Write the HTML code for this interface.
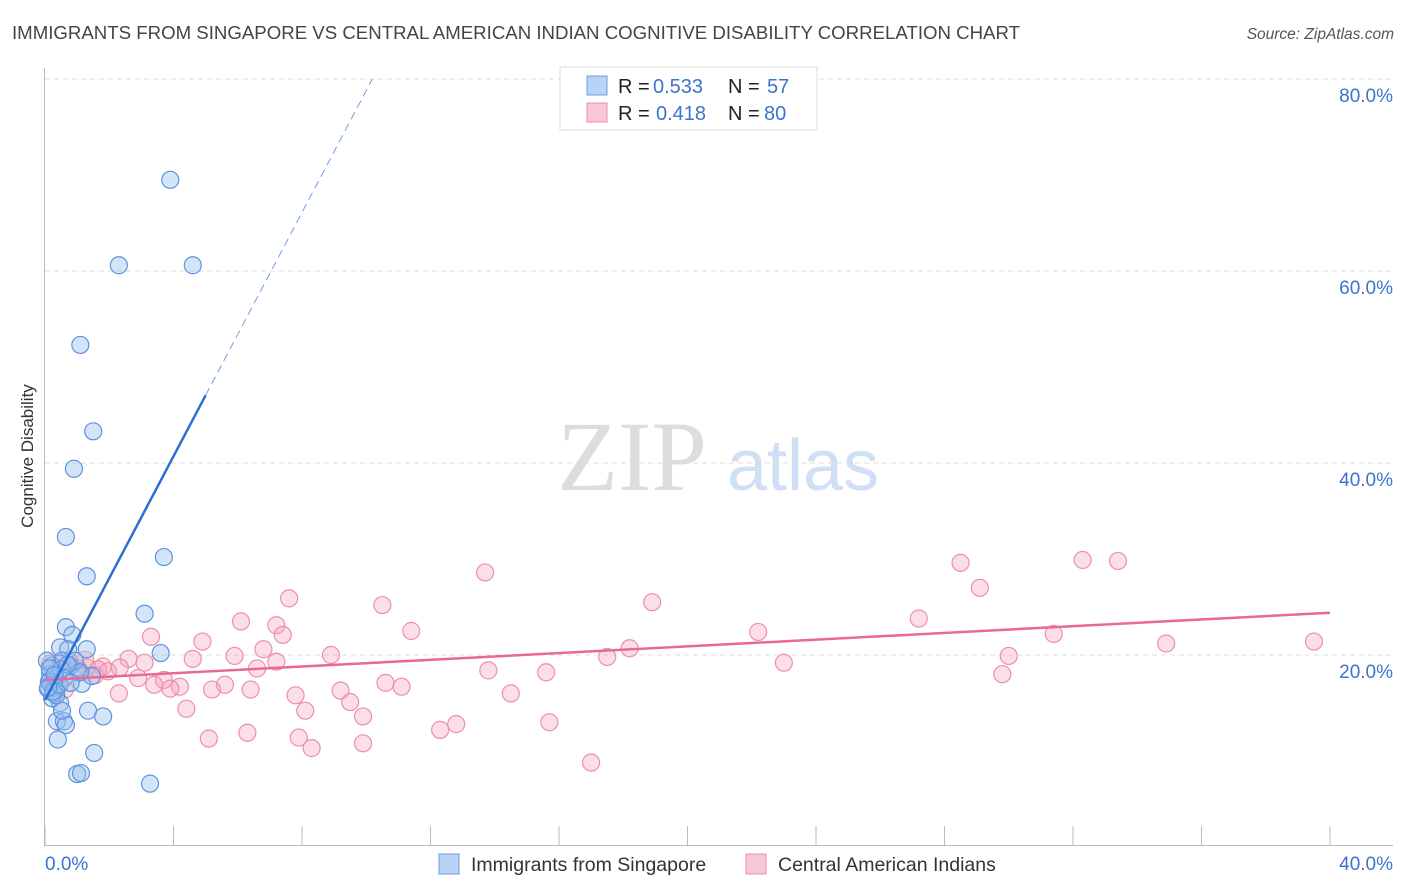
<!DOCTYPE html>
<html><head><meta charset="utf-8">
<style>
body{margin:0;background:#fff;font-family:"Liberation Sans",sans-serif;}
svg{display:block}
</style></head>
<body>
<svg id="chart" width="1406" height="892" xmlns="http://www.w3.org/2000/svg" font-family="Liberation Sans, sans-serif">
<text x="12" y="39" font-size="18" fill="#444" textLength="1008" lengthAdjust="spacingAndGlyphs">IMMIGRANTS FROM SINGAPORE VS CENTRAL AMERICAN INDIAN COGNITIVE DISABILITY CORRELATION CHART</text>
<text x="1394" y="39" font-size="15.5" fill="#555" font-style="italic" text-anchor="end">Source: ZipAtlas.com</text>
<text transform="translate(33,456) rotate(-90)" font-size="17" fill="#333" text-anchor="middle">Cognitive Disability</text>
<g>
<text x="632" y="490" font-size="100" fill="#ddd" font-family="Liberation Serif, serif" text-anchor="middle">ZIP</text>
<text x="803" y="490" font-size="72" fill="#cfe0f4" text-anchor="middle">atlas</text>
</g>
<g id="grid"></g>
<g id="axes"></g>
<g id="pink"></g>
<g id="blue"></g>
<g id="trends"></g>
<g>
<rect x="560" y="67" width="257" height="63" fill="#fff" stroke="#ddd"/>
<rect x="587" y="76" width="20" height="19" fill="#b8d3f5" stroke="#6d9ee0"/>
<rect x="587" y="103" width="20" height="19" fill="#f8c6d5" stroke="#ec8fad"/>
<text x="618" y="93" font-size="20" fill="#222">R = <tspan x="653" fill="#3b73d1">0.533</tspan><tspan x="728">N = </tspan><tspan x="767" fill="#3b73d1">57</tspan></text>
<text x="618" y="120" font-size="20" fill="#222">R = <tspan x="656" fill="#3b73d1">0.418</tspan><tspan x="728">N = </tspan><tspan x="764" fill="#3b73d1">80</tspan></text>
</g>
<g>
<rect x="439" y="854" width="20" height="20" fill="#b8d3f5" stroke="#6d9ee0"/>
<text x="471" y="871" font-size="19.5" fill="#333">Immigrants from Singapore</text>
<rect x="746" y="854" width="20" height="20" fill="#f8c6d5" stroke="#ec8fad"/>
<text x="778" y="871" font-size="19.5" fill="#333">Central American Indians</text>
</g>
</svg>
<script>
const blueX=[3.9,2.3,4.6,1.1,1.5,0.9,0.65,3.7,1.3,3.1,0.65,0.85,0.47,1.3,3.6,0.72,0.22,0.53,1.03,0.16,0.34,1.15,1.46,0.47,0.37,0.59,0.65,1.34,1.81,0.40,1.53,1.0,1.12,3.27,0.16,0.09,0.31,0.78,0.93,0.22,0.53,0.06,1.09,0.2,0.4,0.28,0.5,0.12,0.7,0.35,0.25,0.6,0.15,0.45,0.8,0.3,0.1];
const blueY=[69.5,60.6,60.6,52.3,43.3,39.4,32.3,30.2,28.2,24.3,22.9,22.1,20.8,20.6,20.2,20.6,18.9,19.4,18.2,17.4,16.4,17.0,17.8,15.0,13.1,13.1,12.7,14.2,13.6,11.2,9.8,7.6,7.7,6.6,18.0,16.5,17.5,18.9,19.4,15.5,14.2,19.4,18.2,16.8,17.8,16.0,18.5,17.2,19.0,15.8,16.2,17.6,18.6,16.9,17.1,17.9,16.6];
const pinkX=[13.7,32.3,33.4,28.5,29.1,7.6,10.5,18.9,27.2,6.1,7.2,11.4,22.2,31.4,39.5,34.9,3.3,4.9,7.4,6.8,18.2,17.5,30.0,23.0,8.9,5.9,4.6,7.2,2.6,3.1,1.8,1.3,13.8,15.6,29.8,6.6,2.9,3.7,3.4,4.2,3.9,5.6,5.2,10.6,11.1,2.3,6.4,7.8,9.2,9.5,14.5,4.4,8.1,9.9,15.7,12.8,12.3,6.3,5.1,7.9,8.3,9.9,17.0,0.47,0.78,1.03,1.56,0.31,0.62,1.65,1.96,2.33,1.25,0.16];
const pinkY=[28.6,29.9,29.8,29.6,27.0,25.9,25.2,25.5,23.8,23.5,23.1,22.5,22.4,22.2,21.4,21.2,21.9,21.4,22.1,20.6,20.7,19.8,19.9,19.2,20.0,19.9,19.6,19.3,19.6,19.2,18.8,18.7,18.4,18.2,18.0,18.6,17.6,17.4,16.9,16.7,16.5,16.9,16.4,17.1,16.7,16.0,16.4,15.8,16.3,15.1,16.0,14.4,14.2,13.6,13.0,12.8,12.2,11.9,11.3,11.4,10.3,10.8,8.8,19.1,19.2,18.6,17.9,17.4,16.4,18.5,18.3,18.7,19.5,19.1];
const yTicks=[20,40,60,80];
const yTickLabels=["20.0%","40.0%","60.0%","80.0%"];
const xTicks=[0,4,8,12,16,20,24,28,32,36,40];
const blueTrend=[15.3,6.35]; // intercept, slope
const pinkTrend=[17.4,0.175];
const NS="http://www.w3.org/2000/svg";
const sx=v=>45+v*32.125, sy=v=>847-v*9.6;
function mk(tag,attrs,parent){const e=document.createElementNS(NS,tag);for(const k in attrs)e.setAttribute(k,attrs[k]);parent.appendChild(e);return e;}
const grid=document.getElementById('grid'),axes=document.getElementById('axes');
yTicks.forEach((t,i)=>{
 const l=mk('line',{x1:45,x2:1393,y1:sy(t),y2:sy(t),stroke:'#ddd','stroke-dasharray':'5,4'},grid);
 
 
 const tx=mk('text',{x:1393,y:sy(t)+23,'font-size':19,fill:'#3b73d1','text-anchor':'end'},grid);
 tx.textContent=yTickLabels[i];
 
 
});
let a=mk('line',{x1:44.5,x2:44.5,y1:68,y2:845,stroke:'#bbb'},axes);


a=mk('line',{x1:44,x2:1393,y1:845.5,y2:845.5,stroke:'#bbb'},axes);


xTicks.forEach(t=>{const l=mk('line',{x1:sx(t),x2:sx(t),y1:826,y2:845,stroke:'#bbb'},axes);
 
 });
let t0=mk('text',{x:45,y:870,'font-size':19,fill:'#3b73d1'},axes);t0.textContent='0.0%';


let t1=mk('text',{x:1393,y:870,'font-size':19,fill:'#3b73d1','text-anchor':'end'},axes);t1.textContent='40.0%';


const pg=document.getElementById('pink'),bg=document.getElementById('blue');
pinkX.forEach((x,i)=>{const c=mk('circle',{cx:sx(x),cy:sy(pinkY[i]),r:8.5,fill:'rgba(244,160,187,0.35)',stroke:'#ec8fad','stroke-width':1.2},pg);
 
 });
blueX.forEach((x,i)=>{const c=mk('circle',{cx:sx(x),cy:sy(blueY[i]),r:8.5,fill:'rgba(150,190,240,0.4)',stroke:'#5e93dc','stroke-width':1.2},bg);
 
 });
const tg=document.getElementById('trends');
let tl=mk('line',{x1:sx(0),y1:sy(pinkTrend[0]),x2:sx(40),y2:sy(pinkTrend[0]+pinkTrend[1]*40),stroke:'#e8689a','stroke-width':2.5},tg);


const bEnd=5.0, bTop=(80-blueTrend[0])/blueTrend[1];
tl=mk('line',{x1:sx(0),y1:sy(blueTrend[0]),x2:sx(bEnd),y2:sy(blueTrend[0]+blueTrend[1]*bEnd),stroke:'#2a6fd6','stroke-width':2.5},tg);


tl=mk('line',{x1:sx(bEnd),y1:sy(blueTrend[0]+blueTrend[1]*bEnd),x2:sx(bTop),y2:sy(80),stroke:'#6d9ee0','stroke-width':1,'stroke-dasharray':'8,5'},tg);


</script>
</body></html>
